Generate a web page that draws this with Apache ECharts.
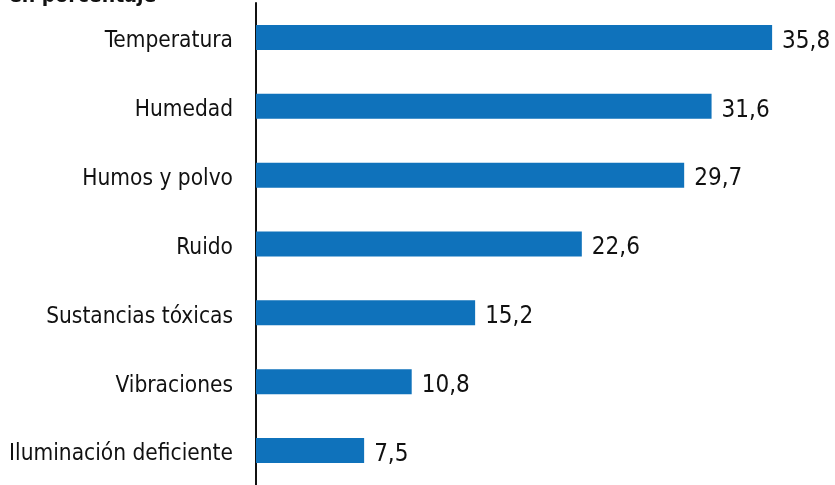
<!DOCTYPE html>
<html><head><meta charset="utf-8">
<script src="https://cdn.jsdelivr.net/npm/echarts@6/dist/echarts.min.js"></script>
<style>html,body{margin:0;padding:0;background:#fff}#c{width:835px;height:485px}</style>
</head><body><div id="c"></div>
<script>
const categories = ["Temperatura","Humedad","Humos y polvo","Ruido","Sustancias tóxicas","Vibraciones","Iluminación deficiente"];
const values = [35.8, 31.6, 29.7, 22.6, 15.2, 10.8, 7.5];
const titleText = "en porcentaje";
const FONT = "'Liberation Sans Narrow','Arial Narrow','DejaVu Sans Condensed',sans-serif";
const chart = echarts.init(document.getElementById('c'));
chart.setOption({
  animation:false,
  title:{text:titleText,left:4,top:-19,textStyle:{fontFamily:FONT,fontSize:21,fontWeight:'bold',color:'#111'}},
  grid:{left:256,right:60,top:3,bottom:0},
  xAxis:{type:'value',min:0,max:36,show:false},
  yAxis:{type:'category',inverse:true,data:categories,
    axisLine:{lineStyle:{color:'#111',width:2}},axisTick:{show:false},
    axisLabel:{margin:23,color:'#111',formatter:v=>'{a|'+v+'}',
      rich:{a:{fontFamily:FONT,fontSize:22.5,color:'#111',padding:[8,0,0,0]}}}},
  series:[{type:'bar',data:values,barWidth:25,itemStyle:{color:'#0f72bb'},
    label:{show:true,position:'right',distance:10,color:'#111',
      formatter:p=>'{a|'+p.value.toFixed(1).replace('.',',')+'}',
      rich:{a:{fontFamily:FONT,fontSize:24,color:'#111',padding:[8,0,0,0]}}}}]
});
</script></body></html>
